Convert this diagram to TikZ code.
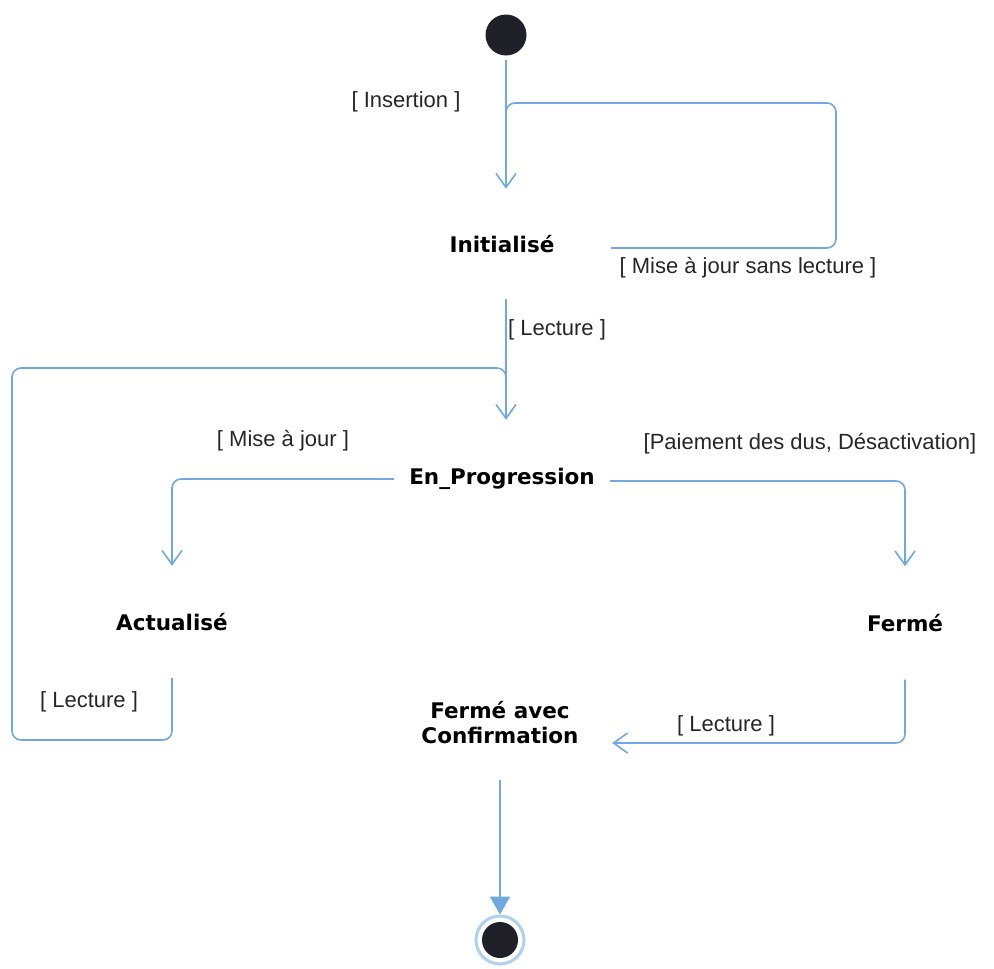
\documentclass[tikz,border=0pt]{standalone}
\usepackage{fontspec}
\setmainfont{Liberation Sans}
\newfontfamily\statefont{DejaVu Sans}
\usetikzlibrary{arrows.meta}
\definecolor{flow}{RGB}{112,168,226}
\definecolor{dot}{RGB}{32,32,40}
\definecolor{ring}{RGB}{175,208,240}
\tikzset{
  state/.style={font=\statefont\bfseries\fontsize{21.5}{25}\selectfont, text=black,
    inner sep=0pt, align=center, minimum width=218pt, minimum height=110pt},
  guard/.style={font=\fontsize{22}{25}\selectfont, text=black!85, inner sep=0pt},
  flowline/.style={draw=flow, line width=1.6pt, rounded corners=9pt},
  opentip/.style={-{Straight Barb[length=14pt,width=20pt,line width=1.6pt]}},
  filltip/.style={-{Triangle[length=18pt,width=20pt]}},
}
\begin{document}
\begin{tikzpicture}[x=1pt,y=-1pt]
\useasboundingbox (0,0) rectangle (994,969);

% start and final pseudo-states
\node[circle, fill=dot, minimum size=41pt, inner sep=0pt, outer sep=4.5pt] (start) at (506,35) {};
\node[circle, draw=ring, line width=3pt, minimum size=48pt, inner sep=0pt, outer sep=1.5pt] (final) at (500,940) {};
\fill[dot] (final.center) circle (18);

% states
\node[state] (init) at (502,244) {Initialisé};
\node[state, minimum height=118pt, minimum width=216pt] (prog) at (502,479) {En\_Progression};
\node[state, minimum height=112pt] (actu) at (172,622) {Actualisé};
\node[state, minimum height=113pt] (ferme) at (905,623) {Fermé};
\node[state, minimum height=114pt, minimum width=224pt] (confirm) at (500,723) {Fermé avec\\Confirmation};

% routing points of the looping transitions
\coordinate (loopNE) at (836,103);
\coordinate (loopSW) at (12,740);
\coordinate (loopNW) at (12,368);

% Insertion
\draw[flowline, opentip] (start.south) -- (start.south |- init.north);
% update without reading: back into the incoming transition
\draw[flowline] ([yshift=-4pt]init.east) -| (loopNE) -- (start.south |- loopNE) -- ++(0,18);
% first reading
\draw[flowline, opentip] (start.south |- init.south) -- (start.south |- prog.north);
% reading after an update: back into the incoming transition
\draw[flowline] (actu.south) |- (loopSW) |- (start.south |- loopNW) -- ++(0,20);
% update
\draw[flowline, opentip] (prog.west) -| (actu.north);
% payment / deactivation
\draw[flowline, opentip] ([yshift=-2pt]prog.east) -| (ferme.north);
% reading after closing
\draw[flowline, opentip] (ferme.south) |- ([yshift=-20pt]confirm.east);
% end
\draw[flowline, filltip] (confirm.south) -- (final.north);

% guards
\node[guard] (g1) at (406,102) {[ Insertion ]};
\node[guard] (g2) at (748,268) {[ Mise à jour sans lecture ]};
\node[guard] (g3) at (557,330) {[ Lecture ]};
\node[guard] (g4) at (283,441) {[ Mise à jour ]};
\node[guard] (g5) at (810,444) {[Paiement des dus, Désactivation]};
\node[guard] (g6) at (89,702) {[ Lecture ]};
\node[guard] (g7) at (726,726) {[ Lecture ]};
\end{tikzpicture}
\end{document}
